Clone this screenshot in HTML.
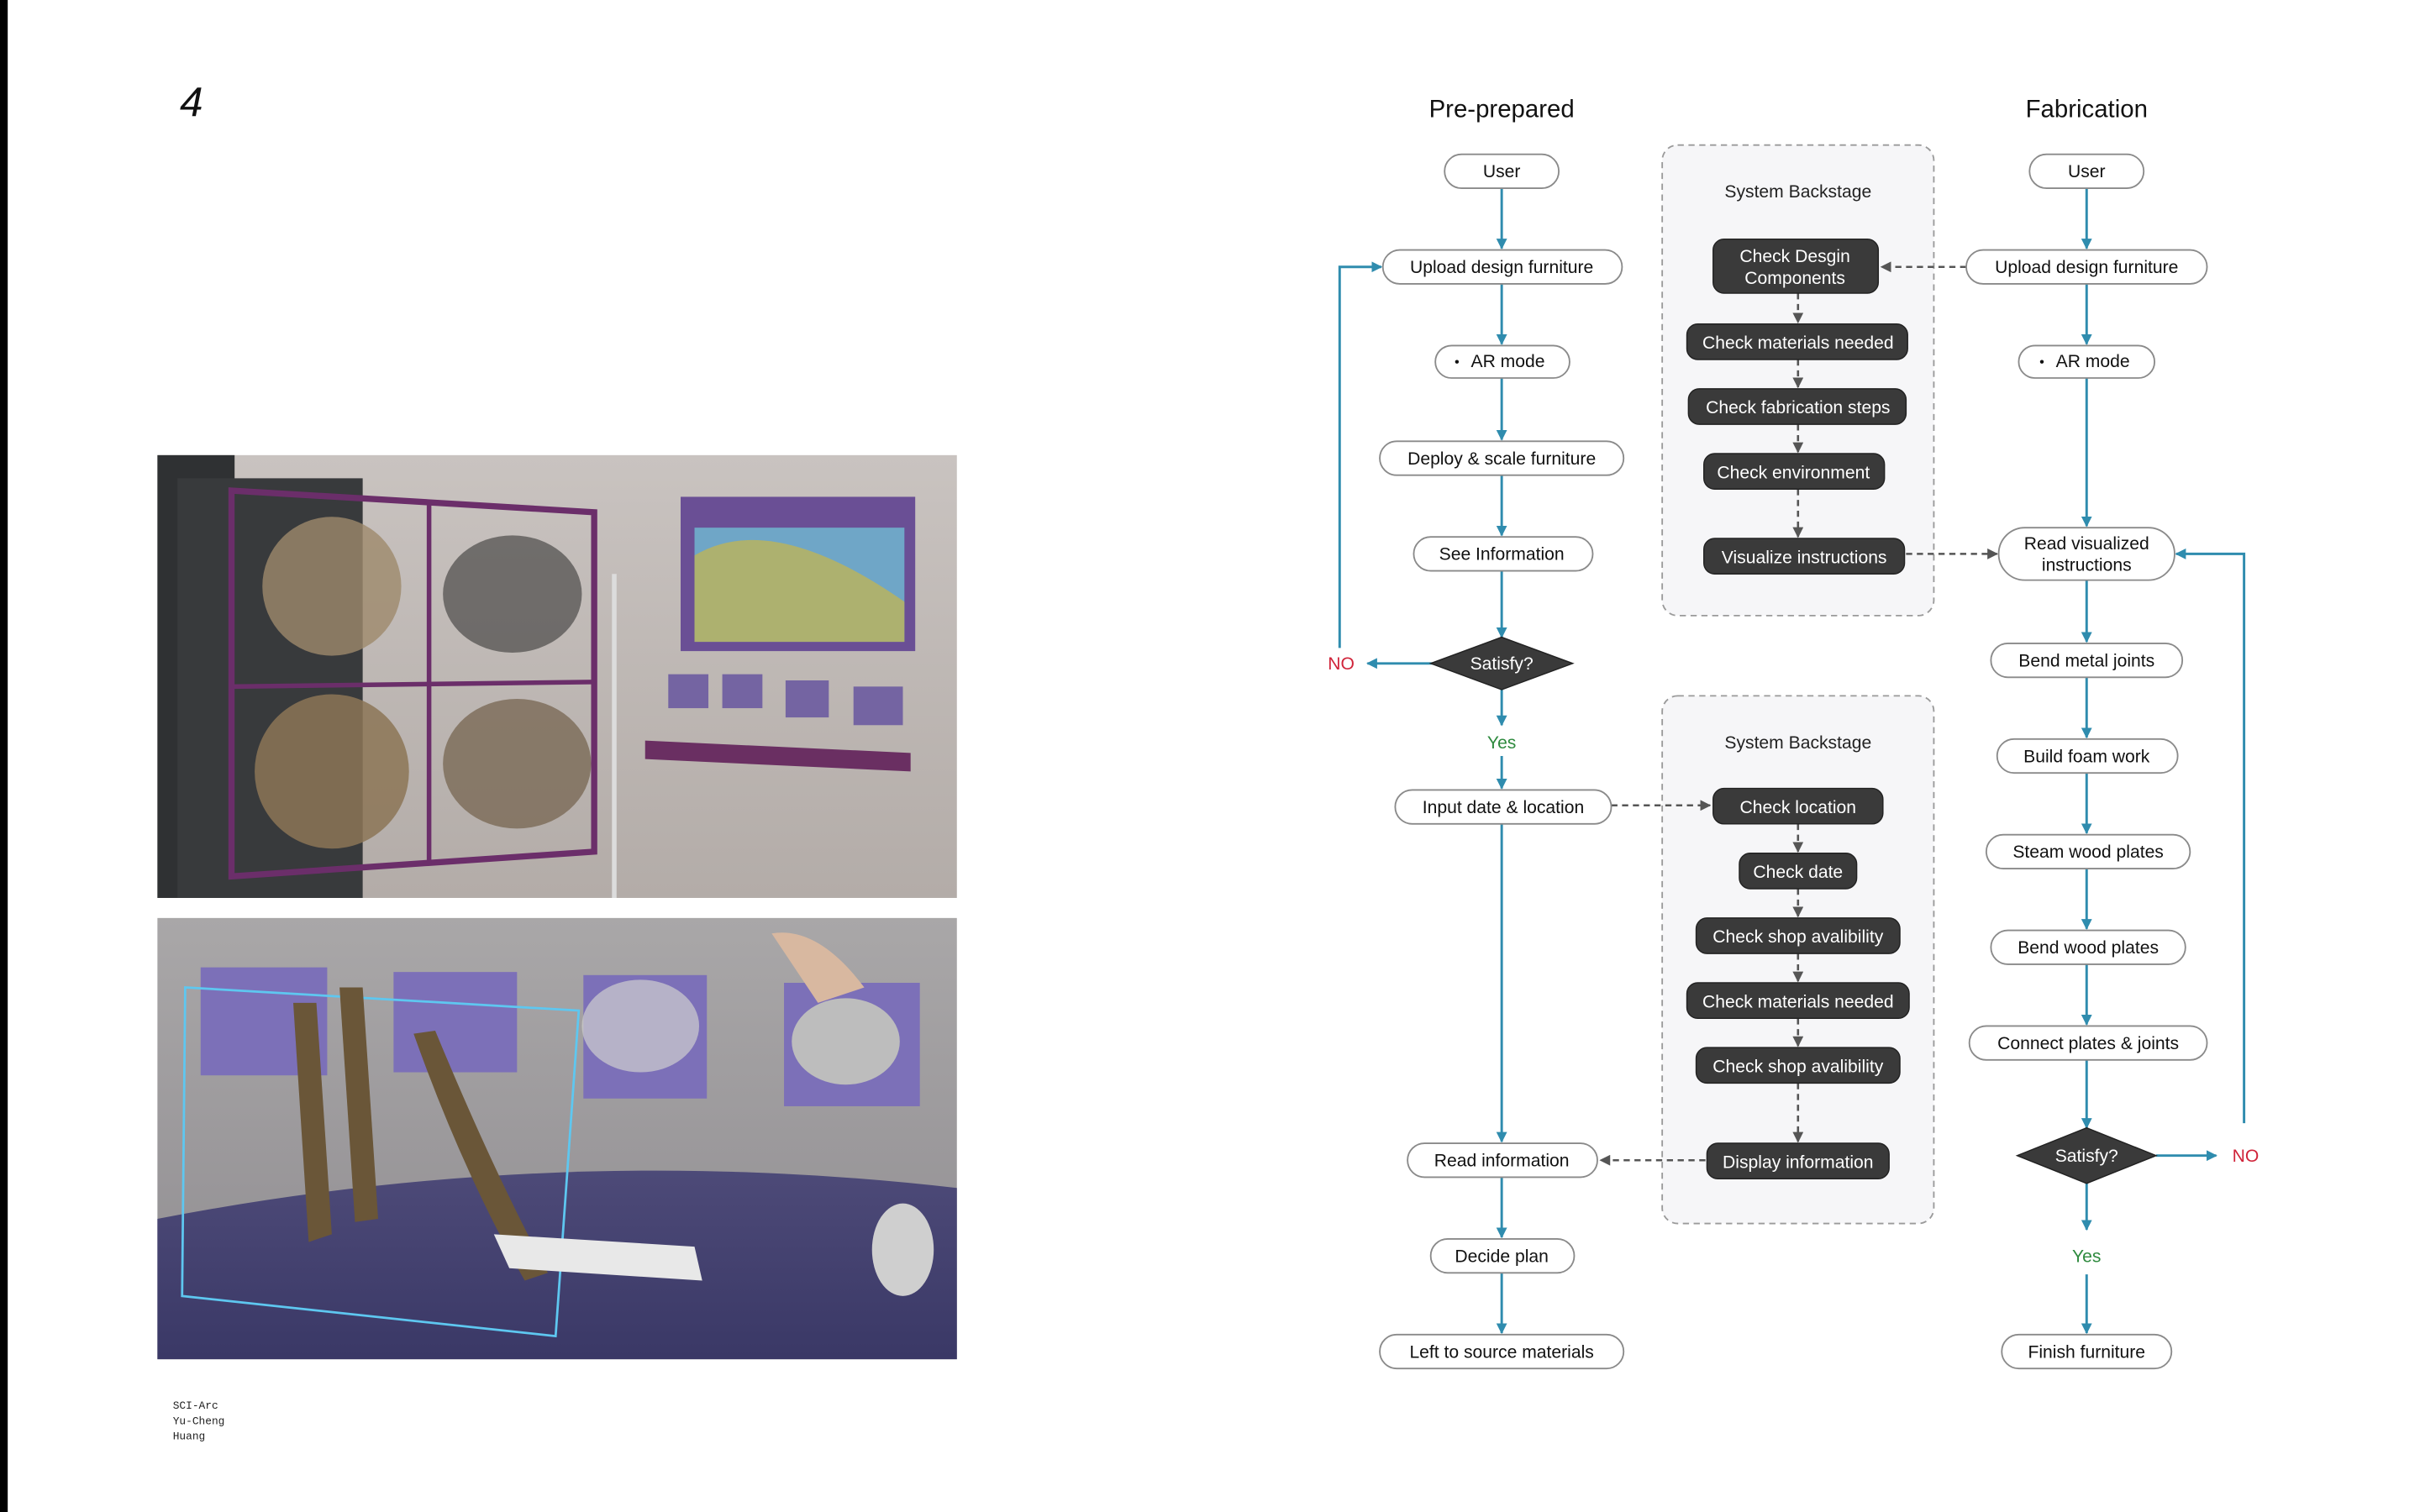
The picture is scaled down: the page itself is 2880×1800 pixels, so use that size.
<!DOCTYPE html>
<html><head><meta charset="utf-8"><style>
html,body{margin:0;padding:0;background:#fff;}
svg{display:block;}
text{font-family:"Liberation Sans",sans-serif;}
</style></head><body>
<svg width="2880" height="1800" viewBox="0 0 1568 980" xmlns="http://www.w3.org/2000/svg">
<defs>
<marker id="b" viewBox="0 0 10 10" refX="9" refY="5" markerWidth="7" markerHeight="7" markerUnits="userSpaceOnUse" orient="auto"><path d="M0,0 L10,5 L0,10 z" fill="#2f8cae"/></marker>
<marker id="g" viewBox="0 0 10 10" refX="9" refY="5" markerWidth="7" markerHeight="7" markerUnits="userSpaceOnUse" orient="auto"><path d="M0,0 L10,5 L0,10 z" fill="#555"/></marker>
<linearGradient id="wall1" x1="0" y1="0" x2="0" y2="1"><stop offset="0" stop-color="#c9c3c0"/><stop offset="1" stop-color="#b3aca8"/></linearGradient>
<linearGradient id="wall2" x1="0" y1="0" x2="0" y2="1"><stop offset="0" stop-color="#a9a7a8"/><stop offset="1" stop-color="#8f8c90"/></linearGradient>
<linearGradient id="tbl" x1="0" y1="0" x2="0" y2="1"><stop offset="0" stop-color="#4d4a78"/><stop offset="1" stop-color="#3a3866"/></linearGradient>
</defs>
<rect x="0" y="0" width="5" height="980" fill="#000"/>
<text x="124" y="75" font-size="27" font-style="italic" text-anchor="middle" fill="#111">4</text>
<text x="112" y="913" style="font-family:'Liberation Mono',monospace;font-size:7px" fill="#222">SCI-Arc</text>
<text x="112" y="923" style="font-family:'Liberation Mono',monospace;font-size:7px" fill="#222">Yu-Cheng</text>
<text x="112" y="933" style="font-family:'Liberation Mono',monospace;font-size:7px" fill="#222">Huang</text>

<!-- Photo 1 -->
<rect x="102" y="295" width="518" height="287" fill="url(#wall1)"/>
<rect x="102" y="295" width="50" height="287" fill="#2f3133"/>
<rect x="115" y="310" width="120" height="272" fill="#383a3c"/>
<path d="M150,318 L385,332 L385,552 L150,568 z" fill="none" stroke="#6b2e6a" stroke-width="4"/>
<line x1="278" y1="325" x2="278" y2="560" stroke="#6b2e6a" stroke-width="3"/>
<line x1="150" y1="445" x2="385" y2="442" stroke="#6b2e6a" stroke-width="3"/>
<ellipse cx="215" cy="380" rx="45" ry="45" fill="#9d8a6c" opacity="0.8"/>
<ellipse cx="332" cy="385" rx="45" ry="38" fill="#4c4a48" opacity="0.7"/>
<ellipse cx="215" cy="500" rx="50" ry="50" fill="#8c7656" opacity="0.85"/>
<ellipse cx="335" cy="495" rx="48" ry="42" fill="#7a6a56" opacity="0.8"/>
<line x1="398" y1="372" x2="398" y2="582" stroke="#dcdcdc" stroke-width="3"/>
<rect x="441" y="322" width="152" height="100" fill="#6a4f95"/>
<rect x="450" y="342" width="136" height="74" fill="#6fa6c7"/>
<path d="M450,360 Q500,330 586,390 L586,416 L450,416 z" fill="#c8b64a" opacity="0.7"/>
<rect x="433" y="437" width="26" height="22" fill="#7464a2"/><rect x="468" y="437" width="26" height="22" fill="#7464a2"/><rect x="509" y="441" width="28" height="24" fill="#7464a2"/><rect x="553" y="445" width="32" height="25" fill="#7464a2"/>
<path d="M418,480 L590,488 L590,500 L418,492 z" fill="#6a2f62"/>
<!-- Photo 2 -->
<rect x="102" y="595" width="518" height="286" fill="url(#wall2)"/>
<path d="M102,790 Q360,740 620,770 L620,881 L102,881 z" fill="url(#tbl)"/>
<rect x="130" y="627" width="82" height="70" fill="#7c70b8"/>
<rect x="255" y="630" width="80" height="65" fill="#7c70b8"/>
<rect x="378" y="632" width="80" height="80" fill="#7c70b8"/>
<rect x="508" y="637" width="88" height="80" fill="#7c70b8"/>
<path d="M120,640 L375,655 L360,866 L118,840 z" fill="none" stroke="#5ec7f0" stroke-width="1.5"/>
<path d="M190,650 L205,650 L215,800 L200,805 z" fill="#6a5638"/>
<path d="M220,640 L235,640 L245,790 L230,792 z" fill="#6a5638"/>
<path d="M268,670 L282,668 Q320,760 355,825 L340,830 Q300,760 268,670z" fill="#6a5638"/>
<ellipse cx="415" cy="665" rx="38" ry="30" fill="#cfcfcf" opacity="0.7"/>
<ellipse cx="548" cy="675" rx="35" ry="28" fill="#bdbdbd"/>
<path d="M500,605 Q530,600 560,640 L530,650 z" fill="#d8b8a0"/>
<polygon points="320,800 450,808 455,830 330,822" fill="#e8e8e8"/>
<ellipse cx="585" cy="810" rx="20" ry="30" fill="#cfcfcf"/>

<!-- Backstage panels -->
<rect x="1077" y="94" width="176" height="305" rx="10" fill="#f6f6f8" stroke="#9a9a9a" stroke-width="1" stroke-dasharray="4,3"/>
<rect x="1077" y="451" width="176" height="342" rx="10" fill="#f6f6f8" stroke="#9a9a9a" stroke-width="1" stroke-dasharray="4,3"/>
<text x="1165" y="128" font-size="11.5" text-anchor="middle" fill="#222">System Backstage</text>
<text x="1165" y="485" font-size="11.5" text-anchor="middle" fill="#222">System Backstage</text>

<g font-size="16" text-anchor="middle">
<text x="973" y="76" fill="#111">Pre-prepared</text>
<text x="1352" y="76" fill="#111">Fabrication</text>
</g>

<g stroke="#2f8cae" stroke-width="1.6" fill="none" marker-end="url(#b)">
<line x1="973" y1="122" x2="973" y2="161"/>
<line x1="973" y1="184" x2="973" y2="223"/>
<line x1="973" y1="245" x2="973" y2="285"/>
<line x1="973" y1="308" x2="973" y2="347"/>
<line x1="973" y1="370" x2="973" y2="413"/>
<line x1="929" y1="430" x2="886" y2="430"/>
<polyline points="868,420 868,173 895,173"/>
<line x1="973" y1="447" x2="973" y2="470"/>
<line x1="973" y1="490" x2="973" y2="511"/>
<line x1="973" y1="534" x2="973" y2="740"/>
<line x1="973" y1="763" x2="973" y2="802"/>
<line x1="973" y1="825" x2="973" y2="864"/>
<line x1="1352" y1="122" x2="1352" y2="161"/>
<line x1="1352" y1="184" x2="1352" y2="223"/>
<line x1="1352" y1="245" x2="1352" y2="341"/>
<line x1="1352" y1="376" x2="1352" y2="416"/>
<line x1="1352" y1="439" x2="1352" y2="478"/>
<line x1="1352" y1="501" x2="1352" y2="540"/>
<line x1="1352" y1="563" x2="1352" y2="602"/>
<line x1="1352" y1="625" x2="1352" y2="664"/>
<line x1="1352" y1="687" x2="1352" y2="731"/>
<line x1="1397" y1="749" x2="1436" y2="749"/>
<polyline points="1454,728 1454,359 1410,359"/>
<line x1="1352" y1="767" x2="1352" y2="797"/>
<line x1="1352" y1="826" x2="1352" y2="864"/>
</g>
<g stroke="#555" stroke-width="1.4" fill="none" stroke-dasharray="4,3" marker-end="url(#g)">
<line x1="1274" y1="173" x2="1219" y2="173"/>
<line x1="1235" y1="359" x2="1294" y2="359"/>
<line x1="1044" y1="522" x2="1108" y2="522"/>
<line x1="1105" y1="752" x2="1037" y2="752"/>
<line x1="1165" y1="190" x2="1165" y2="209"/>
<line x1="1165" y1="233" x2="1165" y2="251"/>
<line x1="1165" y1="275" x2="1165" y2="293"/>
<line x1="1165" y1="317" x2="1165" y2="348"/>
<line x1="1165" y1="534" x2="1165" y2="552"/>
<line x1="1165" y1="576" x2="1165" y2="594"/>
<line x1="1165" y1="618" x2="1165" y2="636"/>
<line x1="1165" y1="660" x2="1165" y2="678"/>
<line x1="1165" y1="702" x2="1165" y2="740"/>
</g>

<g fill="#fff" stroke="#8a8a8a" stroke-width="1">
<rect x="936" y="100" width="74" height="22" rx="11"/>
<rect x="896" y="162" width="155" height="22" rx="11"/>
<rect x="930" y="224" width="87" height="21" rx="10.5"/>
<rect x="894" y="286" width="158" height="22" rx="11"/>
<rect x="916" y="348" width="116" height="22" rx="11"/>
<rect x="904" y="512" width="140" height="22" rx="11"/>
<rect x="912" y="741" width="123" height="22" rx="11"/>
<rect x="927" y="803" width="93" height="22" rx="11"/>
<rect x="894" y="865" width="158" height="22" rx="11"/>
<rect x="1315" y="100" width="74" height="22" rx="11"/>
<rect x="1274" y="162" width="156" height="22" rx="11"/>
<rect x="1308" y="224" width="88" height="21" rx="10.5"/>
<rect x="1295" y="342" width="114" height="34" rx="17"/>
<rect x="1290" y="417" width="124" height="22" rx="11"/>
<rect x="1294" y="479" width="117" height="22" rx="11"/>
<rect x="1287" y="541" width="132" height="22" rx="11"/>
<rect x="1290" y="603" width="126" height="22" rx="11"/>
<rect x="1276" y="665" width="154" height="22" rx="11"/>
<rect x="1297" y="865" width="110" height="22" rx="11"/>
</g>
<g font-size="11.5" text-anchor="middle" fill="#111">
<text x="973" y="115">User</text>
<text x="973" y="177">Upload design furniture</text>
<text x="977" y="238">AR mode</text>
<text x="973" y="301">Deploy &amp; scale furniture</text>
<text x="973" y="363">See Information</text>
<text x="974" y="527">Input date &amp; location</text>
<text x="973" y="756">Read information</text>
<text x="973" y="818">Decide plan</text>
<text x="973" y="880">Left to source materials</text>
<text x="1352" y="115">User</text>
<text x="1352" y="177">Upload design furniture</text>
<text x="1356" y="238">AR mode</text>
<text x="1352" y="356">Read visualized</text>
<text x="1352" y="370">instructions</text>
<text x="1352" y="432">Bend metal joints</text>
<text x="1352" y="494">Build foam work</text>
<text x="1353" y="556">Steam wood plates</text>
<text x="1353" y="618">Bend wood plates</text>
<text x="1353" y="680">Connect plates &amp; joints</text>
<text x="1352" y="880">Finish furniture</text>
</g>
<circle cx="944" cy="234.5" r="1.2" fill="#111"/>
<circle cx="1323" cy="234.5" r="1.2" fill="#111"/>

<g fill="#3a3a3a" stroke="#222" stroke-width="0.8">
<rect x="1110" y="155" width="107" height="35" rx="7"/>
<rect x="1093" y="210" width="143" height="23" rx="7"/>
<rect x="1094" y="252" width="141" height="23" rx="7"/>
<rect x="1104" y="294" width="117" height="23" rx="7"/>
<rect x="1104" y="349" width="130" height="23" rx="7"/>
<rect x="1110" y="511" width="110" height="23" rx="7"/>
<rect x="1127" y="553" width="76" height="23" rx="7"/>
<rect x="1099" y="595" width="132" height="23" rx="7"/>
<rect x="1093" y="637" width="144" height="23" rx="7"/>
<rect x="1099" y="679" width="132" height="23" rx="7"/>
<rect x="1106" y="741" width="118" height="23" rx="7"/>
<polygon points="973,413 1019,430 973,447 927,430"/>
<polygon points="1352,731 1397,749 1352,767 1307,749"/>
</g>
<g font-size="11.5" text-anchor="middle" fill="#fff">
<text x="1163" y="170">Check Desgin</text>
<text x="1163" y="184">Components</text>
<text x="1165" y="226">Check materials needed</text>
<text x="1165" y="268">Check fabrication steps</text>
<text x="1162" y="310">Check environment</text>
<text x="1169" y="365">Visualize instructions</text>
<text x="1165" y="527">Check location</text>
<text x="1165" y="569">Check date</text>
<text x="1165" y="611">Check shop avalibility</text>
<text x="1165" y="653">Check materials needed</text>
<text x="1165" y="695">Check shop avalibility</text>
<text x="1165" y="757">Display information</text>
<text x="973" y="434">Satisfy?</text>
<text x="1352" y="753">Satisfy?</text>
</g>
<g font-size="11.5" text-anchor="middle">
<text x="869" y="434" fill="#d0243a">NO</text>
<text x="1455" y="753" fill="#d0243a">NO</text>
<text x="973" y="485" fill="#2e8a3e">Yes</text>
<text x="1352" y="818" fill="#2e8a3e">Yes</text>
</g>
</svg>
</body></html>
